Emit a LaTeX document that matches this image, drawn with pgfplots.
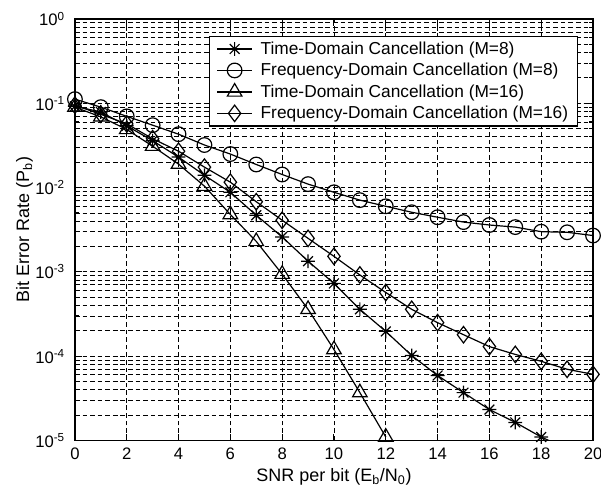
\documentclass[border=0pt]{standalone}
\usepackage{fontspec}
\setmainfont{Liberation Sans}
\usepackage{pgfplots}
\pgfplotsset{compat=1.18}

\pgfdeclareplotmark{mstar}{%
  \pgfpathmoveto{\pgfqpoint{-\pgfplotmarksize}{0pt}}%
  \pgfpathlineto{\pgfqpoint{\pgfplotmarksize}{0pt}}%
  \pgfpathmoveto{\pgfqpoint{0pt}{-\pgfplotmarksize}}%
  \pgfpathlineto{\pgfqpoint{0pt}{\pgfplotmarksize}}%
  \pgfpathmoveto{\pgfqpoint{-0.707\pgfplotmarksize}{-0.707\pgfplotmarksize}}%
  \pgfpathlineto{\pgfqpoint{0.707\pgfplotmarksize}{0.707\pgfplotmarksize}}%
  \pgfpathmoveto{\pgfqpoint{-0.707\pgfplotmarksize}{0.707\pgfplotmarksize}}%
  \pgfpathlineto{\pgfqpoint{0.707\pgfplotmarksize}{-0.707\pgfplotmarksize}}%
  \pgfusepathqstroke}

% Time-Domain Cancellation (M=8)
\pgfplotstableread{
x y
0 0.092
1 0.079
2 0.054
3 0.036
4 0.023
5 0.014
6 0.0088
7 0.0047
8 0.0026
9 0.00134
10 0.00073
11 0.00036
12 0.000197
13 0.000102
14 5.9e-5
15 3.7e-5
16 2.33e-5
17 1.64e-5
18 1.1e-5
19 8e-6
}\tdeight

% Frequency-Domain Cancellation (M=8)
\pgfplotstableread{
x y
0 0.112
1 0.090
2 0.070
3 0.055
4 0.043
5 0.032
6 0.025
7 0.0188
8 0.0143
9 0.0110
10 0.0088
11 0.0071
12 0.0060
13 0.0051
14 0.00445
15 0.0039
16 0.0036
17 0.0034
18 0.0030
19 0.00295
20 0.0027
}\fdeight

% Time-Domain Cancellation (M=16)
\pgfplotstableread{
x y
0 0.090
1 0.069
2 0.049
3 0.031
4 0.019
5 0.0104
6 0.0048
7 0.0023
8 0.00094
9 0.00036
10 0.00012
11 3.7e-5
12 1.1e-5
}\tdsixteen

% Frequency-Domain Cancellation (M=16)
\pgfplotstableread{
x y
0 0.095
1 0.074
2 0.057
3 0.038
4 0.027
5 0.0175
6 0.0116
7 0.0068
8 0.0041
9 0.0025
10 0.00153
11 0.00092
12 0.00057
13 0.00036
14 0.00025
15 0.00018
16 0.00013
17 0.000105
18 8.7e-5
19 7.0e-5
20 6.1e-5
}\fdsixteen

\begin{document}
\begin{tikzpicture}
\begin{axis}[
    scale only axis,
    width=389pt, height=316.5pt,
    ymode=log,
    xmin=0, xmax=20, ymin=1e-5, ymax=1,
    xtick={0,2,...,20},
    xticklabels={0,2,4,6,8,10,12,14,16,18,20},
    ytick={1e-5,1e-4,1e-3,1e-2,1e-1,1},
    yticklabels={10\textsuperscript{-5},10\textsuperscript{-4},10\textsuperscript{-3},10\textsuperscript{-2},10\textsuperscript{-1},10\textsuperscript{0}},
    tick label style={font=\fontsize{12.5}{14}\selectfont},
    xticklabel style={yshift=-2pt},
    yticklabel style={xshift=-4pt},
    label style={font=\fontsize{13.5}{15}\selectfont},
    xlabel={SNR per bit (E\textsubscript{b}/N\textsubscript{0})},
    ylabel={Bit Error Rate (P\textsubscript{b})},
    xlabel style={yshift=0pt},
    ylabel style={yshift=-5pt},
    tick align=inside,
    major tick length=5pt, minor tick length=3pt,
    grid=both,
    major grid style={black, line width=0.7pt, dash pattern=on 3.5pt off 2.2pt},
    minor grid style={black, line width=0.7pt, dash pattern=on 3.5pt off 2.2pt},
    axis line style={black, line width=1pt},
    every tick/.style={black, line width=0.8pt},
    legend cell align=left,
    legend style={at={(0.971,0.960)}, anchor=north east, draw=black,
        line width=0.8pt, fill=white, font=\fontsize{13}{15}\selectfont,
        row sep=1.2pt, column sep=4pt, inner xsep=5pt, inner ysep=2pt},
    legend image code/.code={%
        \draw[mark repeat=2, mark phase=2]
        plot coordinates {(0cm,0cm) (0.46cm,0cm) (0.92cm,0cm)};},
    every axis plot/.append style={black, line width=0.9pt, mark options={solid, fill=white, line width=0.9pt}},
]
\addplot[mark=mstar, mark size=5.2pt] table {\tdeight};
\addplot[mark=o, mark size=5.5pt] table {\fdeight};
\addplot[mark=triangle, mark size=6.3pt] table {\tdsixteen};
\addplot[mark=diamond, mark size=6.2pt] table {\fdsixteen};
\legend{Time-Domain Cancellation (M=8), Frequency-Domain Cancellation (M=8), Time-Domain Cancellation (M=16), Frequency-Domain Cancellation (M=16)}
\end{axis}
\pgfresetboundingbox
\path[use as bounding box] ([shift={(-56.25pt,-40.5pt)}]current axis.south west)
    rectangle ([shift={(6pt,14.25pt)}]current axis.north east);
\end{tikzpicture}
\end{document}
